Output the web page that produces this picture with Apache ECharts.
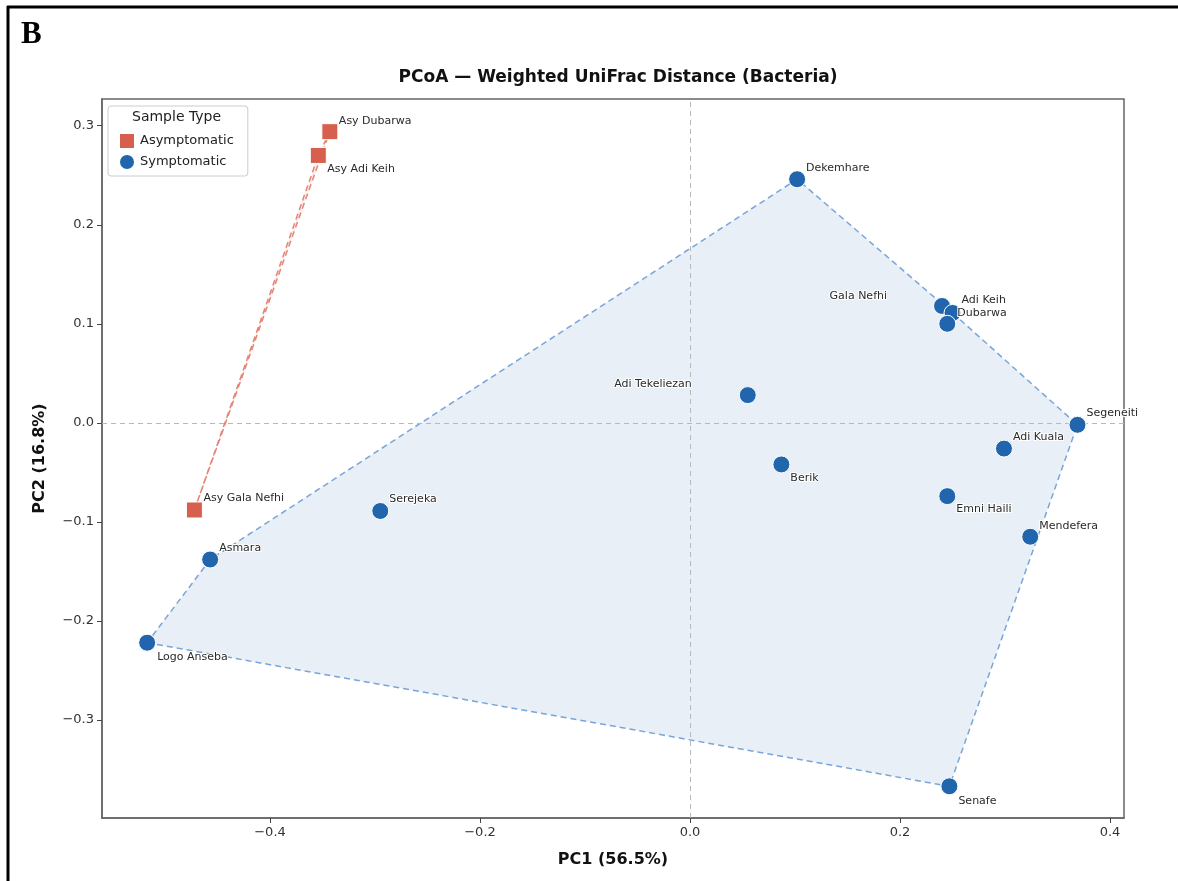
<!DOCTYPE html>
<html>
<head>
<meta charset="utf-8">
<script src="https://cdn.jsdelivr.net/npm/echarts@6/dist/echarts.min.js"></script>
<style>
  html, body { margin: 0; padding: 0; background: #fff; }
  #chart { width: 1178px; height: 881px; }
</style>
</head>
<body>
<div id="chart"></div>
<script>
// PCoA coordinates (weighted UniFrac, bacteria)
const asyNames = ['Asy Dubarwa', 'Asy Adi Keih', 'Asy Gala Nefhi'];
const asyPC1 = [-0.343, -0.354, -0.472];
const asyPC2 = [0.294, 0.270, -0.088];

const symNames = ['Dekemhare', 'Gala Nefhi', 'Adi Keih', 'Dubarwa', 'Adi Tekeliezan', 'Segeneiti',
  'Adi Kuala', 'Berik', 'Emni Haili', 'Mendefera', 'Serejeka', 'Asmara', 'Logo Anseba', 'Senafe'];
const symPC1 = [0.102, 0.240, 0.250, 0.245, 0.055, 0.369, 0.299, 0.087, 0.245, 0.324, -0.295, -0.457, -0.517, 0.247];
const symPC2 = [0.246, 0.118, 0.111, 0.100, 0.028, -0.002, -0.026, -0.042, -0.074, -0.115, -0.089, -0.138, -0.222, -0.367];

const xTicks = [-0.4, -0.2, 0.0, 0.2, 0.4];
const yTicks = [-0.3, -0.2, -0.1, 0.0, 0.1, 0.2, 0.3];

// label placement (pixel offset from marker centre, text alignment)
const labelPlacement = {
  'Asy Dubarwa': [9, -11, 'left'],
  'Asy Adi Keih': [9, 14, 'left'],
  'Asy Gala Nefhi': [9, -12, 'left'],
  'Dekemhare': [9, -11, 'left'],
  'Gala Nefhi': [-55, -10, 'right'],
  'Adi Keih': [9, -13, 'left'],
  'Dubarwa': [10, -11, 'left'],
  'Adi Tekeliezan': [-56, -11, 'right'],
  'Segeneiti': [9, -12, 'left'],
  'Adi Kuala': [9, -11, 'left'],
  'Berik': [9, 14, 'left'],
  'Emni Haili': [9, 13, 'left'],
  'Mendefera': [9, -11, 'left'],
  'Serejeka': [9, -12, 'left'],
  'Asmara': [9, -11, 'left'],
  'Logo Anseba': [10, 14, 'left'],
  'Senafe': [9, 15, 'left']
};

const RED = '#d6604d';
const BLUE = '#2166ac';
const FONT = 'DejaVu Sans, Noto Sans, sans-serif';

function convexHull(pts) {
  const p = pts.slice().sort((a, b) => a[0] - b[0] || a[1] - b[1]);
  if (p.length < 3) return p;
  const cross = (o, a, b) => (a[0] - o[0]) * (b[1] - o[1]) - (a[1] - o[1]) * (b[0] - o[0]);
  const lower = [], upper = [];
  for (const q of p) {
    while (lower.length >= 2 && cross(lower[lower.length - 2], lower[lower.length - 1], q) <= 0) lower.pop();
    lower.push(q);
  }
  for (let i = p.length - 1; i >= 0; i--) {
    const q = p[i];
    while (upper.length >= 2 && cross(upper[upper.length - 2], upper[upper.length - 1], q) <= 0) upper.pop();
    upper.push(q);
  }
  upper.pop(); lower.pop();
  return lower.concat(upper);
}

function points(names, xs, ys) {
  return names.map((n, i) => {
    const pl = labelPlacement[n] || [9, -11, 'left'];
    return {
      name: n,
      value: [xs[i], ys[i]],
      label: { offset: [pl[0], pl[1]], align: pl[2] }
    };
  });
}

function hullSeries(name, xs, ys, stroke, fill) {
  const hull = convexHull(xs.map((x, i) => [x, ys[i]]));
  return {
    name: name,
    type: 'custom',
    silent: true,
    z: 1,
    data: hull,
    encode: { x: 0, y: 1 },
    renderItem: function (params, api) {
      if (params.dataIndex !== 0) return null;
      const pts = hull.map(h => api.coord(h));
      return {
        type: 'polygon',
        shape: { points: pts },
        style: { fill: fill, stroke: stroke, lineWidth: 1.5, lineDash: [6, 4] }
      };
    }
  };
}

const labelCommon = {
  show: true,
  position: 'inside',
  verticalAlign: 'middle',
  formatter: '{b}',
  fontFamily: FONT,
  fontSize: 11,
  color: '#2a2a2a',
  textBorderColor: '#fff',
  textBorderWidth: 2
};

const chart = echarts.init(document.getElementById('chart'), null, { renderer: 'canvas' });

const tickFmt = v => (v < 0 ? '\u2212' : '') + Math.abs(v).toFixed(1);

chart.setOption({
  animation: false,
  backgroundColor: '#fff',
  title: {
    text: 'PCoA \u2014 Weighted UniFrac Distance (Bacteria)',
    left: 613, top: 64, textAlign: 'center',
    textStyle: { fontFamily: FONT, fontWeight: 'bold', fontSize: 17, color: '#111' }
  },
  grid: {
    left: 102, top: 99, width: 1022, height: 719,
    show: true, borderColor: '#666', borderWidth: 1.5, backgroundColor: 'transparent'
  },
  legend: {
    data: ['Asymptomatic', 'Symptomatic'],
    orient: 'vertical',
    left: 108, top: 106,
    padding: [26, 14, 5, 10],
    itemGap: 3,
    itemWidth: 16, itemHeight: 16,
    borderColor: '#ccc', borderWidth: 1, borderRadius: 3,
    backgroundColor: 'rgba(255,255,255,0.8)',
    textStyle: { fontFamily: FONT, fontSize: 13, color: '#222' },
    selectedMode: false
  },
  xAxis: {
    type: 'value', min: -0.56, max: 0.4133,
    name: 'PC1 (56.5%)', nameLocation: 'middle', nameGap: 34,
    nameTextStyle: { fontFamily: FONT, fontWeight: 'bold', fontSize: 16, color: '#111' },
    axisLine: { show: true, onZero: false, lineStyle: { color: '#666', width: 1.5 } },
    axisTick: { show: true, length: 5, customValues: xTicks, lineStyle: { color: '#444' } },
    axisLabel: { customValues: xTicks, formatter: tickFmt, fontFamily: FONT, fontSize: 13, color: '#333', margin: 8 },
    splitLine: { show: false }
  },
  yAxis: {
    type: 'value', min: -0.399, max: 0.327,
    name: 'PC2 (16.8%)', nameLocation: 'middle', nameGap: 54, nameRotate: 90,
    nameTextStyle: { fontFamily: FONT, fontWeight: 'bold', fontSize: 16, color: '#111' },
    axisLine: { show: true, onZero: false, lineStyle: { color: '#666', width: 1.5 } },
    axisTick: { show: true, length: 5, customValues: yTicks, lineStyle: { color: '#444' } },
    axisLabel: { customValues: yTicks, formatter: tickFmt, fontFamily: FONT, fontSize: 13, color: '#333', margin: 8 },
    splitLine: { show: false }
  },
  graphic: [
    { type: 'line', shape: { x1: 7, y1: 7, x2: 1178, y2: 7 }, style: { stroke: '#000', lineWidth: 3 } },
    { type: 'line', shape: { x1: 8, y1: 6, x2: 8, y2: 881 }, style: { stroke: '#000', lineWidth: 3 } },
    { type: 'text', left: 21, top: 19, style: { text: 'B', font: 'bold 31px "Liberation Serif", serif', fill: '#000' } },
    { type: 'text', left: 132, top: 110, z: 100, style: { text: 'Sample Type', font: '14px ' + FONT, fill: '#222' } }
  ],
  series: [
    hullSeries('asyHull', asyPC1, asyPC2, 'rgba(226,120,105,0.9)', 'rgba(214,96,77,0.10)'),
    hullSeries('symHull', symPC1, symPC2, 'rgba(100,150,210,0.85)', 'rgba(33,102,172,0.10)'),
    {
      name: 'Asymptomatic', type: 'scatter', z: 3,
      symbol: 'rect', symbolSize: 16,
      itemStyle: { color: RED, opacity: 1, borderColor: '#fff', borderWidth: 1 },
      label: labelCommon,
      data: points(asyNames, asyPC1, asyPC2)
    },
    {
      name: 'Symptomatic', type: 'scatter', z: 3,
      symbol: 'circle', symbolSize: 17,
      itemStyle: { color: BLUE, opacity: 1, borderColor: '#fff', borderWidth: 1 },
      label: labelCommon,
      data: points(symNames, symPC1, symPC2),
      markLine: {
        silent: true, symbol: 'none', z: 2,
        lineStyle: { color: '#b8b8b8', type: [5, 4], width: 1 },
        label: { show: false },
        data: [{ xAxis: 0 }, { yAxis: 0 }]
      }
    }
  ]
});
</script>
</body>
</html>
